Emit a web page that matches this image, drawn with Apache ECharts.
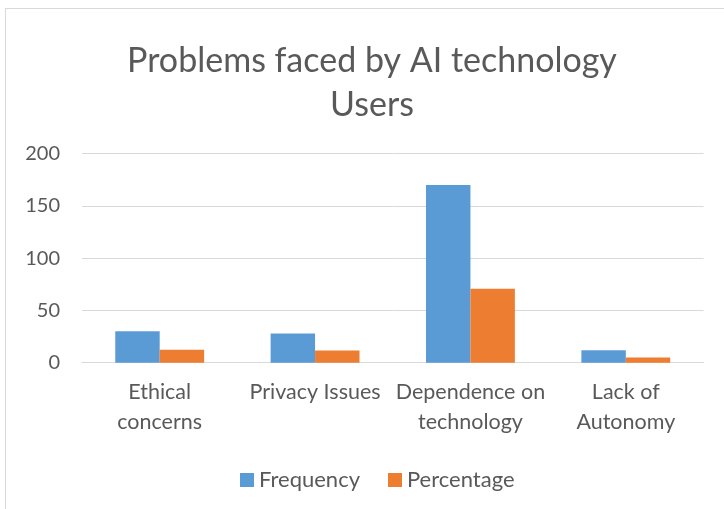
<!DOCTYPE html>
<html>
<head>
<meta charset="utf-8">
<script src="https://cdn.jsdelivr.net/npm/echarts@6/dist/echarts.min.js"></script>
<style>
	html, body {
		margin: 0;
		padding: 0;
		background: #fff;
		overflow: hidden;
	}
	.frame {
		position: absolute;
		left: 5px;
		top: 8px;
		width: 800px;
		height: 600px;
		border: 1px solid #d9d9d9;
	}
	#chart_bar {
		position: absolute;
		left: 0;
		top: 0;
		width: 724px;
		height: 509px;
	}
</style>
</head>
<body>
<div class="frame"></div>
<div id="chart_bar"></div>
<script>
	var categories = ['Ethical\nconcerns', 'Privacy Issues', 'Dependence on\ntechnology', 'Lack of\nAutonomy'];
	var frequency = [30, 28, 170, 12];
	var percentage = [12.5, 11.67, 70.83, 5];
	var yTicks = [0, 50, 100, 150, 200];

	var font = 'Lato';
	var textColor = '#595959';

	var option = {
		animation: false,
		title: {
			text: 'Problems faced by AI technology\nUsers',
			left: 367,
			textAlign: 'center',
			top: 34,
			textStyle: {
				fontFamily: font,
				fontSize: 34,
				fontWeight: 'normal',
				color: textColor,
				lineHeight: 44
			}
		},
		legend: {
			top: 464,
			left: 235,
			itemWidth: 14,
			itemHeight: 14,
			itemGap: 28,
			icon: 'rect',
			textStyle: {
				fontFamily: font,
				fontSize: 22,
				color: textColor
			},
			data: ['Frequency', 'Percentage']
		},
		grid: {
			left: 82,
			right: 20.5,
			top: 153.7,
			bottom: 146.3,
			containLabel: false
		},
		xAxis: {
			type: 'category',
			data: categories,
			axisTick: { show: false },
			axisLine: { lineStyle: { color: '#d9d9d9', width: 1 } },
			axisLabel: {
				fontFamily: font,
				fontSize: 21.5,
				color: textColor,
				lineHeight: 30,
				margin: 14,
				interval: 0
			}
		},
		yAxis: {
			type: 'value',
			min: yTicks[0],
			max: yTicks[yTicks.length - 1],
			interval: 50,
			axisLine: { show: false },
			axisTick: { show: false },
			splitLine: { lineStyle: { color: '#d9d9d9', width: 1 } },
			axisLabel: {
				fontFamily: font,
				fontSize: 20,
				color: textColor,
				margin: 22
			}
		},
		series: [{
				name: 'Frequency',
				type: 'bar',
				barGap: '0%',
				barCategoryGap: '42.8%',
				itemStyle: { color: '#5B9BD5' },
				data: frequency
			},
			{
				name: 'Percentage',
				type: 'bar',
				itemStyle: { color: '#ED7D31' },
				data: percentage
			}
		]
	};

	var myChart = echarts.init(document.getElementById('chart_bar'));
	myChart.setOption(option);
</script>
</body>
</html>
